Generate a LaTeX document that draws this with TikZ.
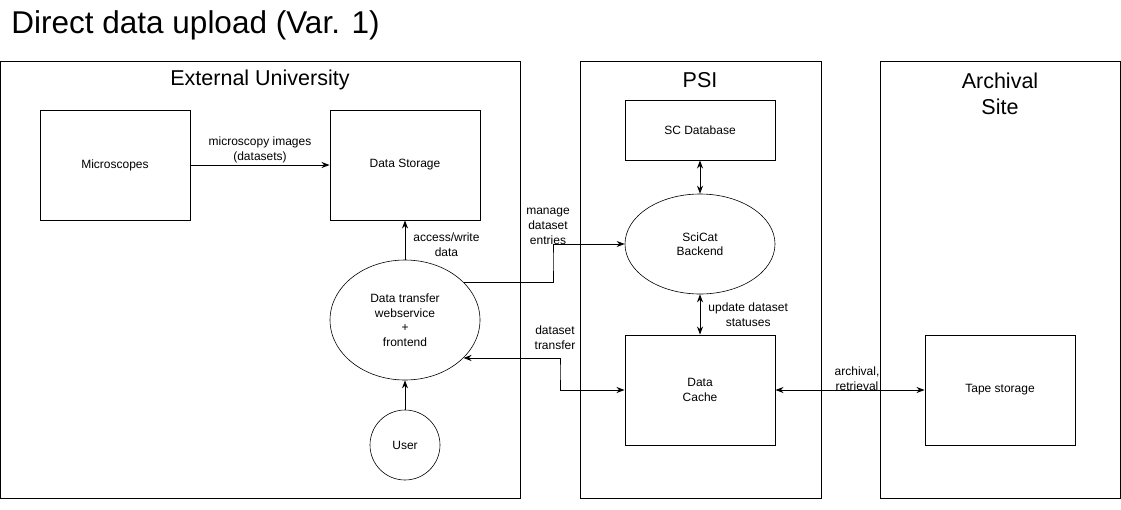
\documentclass[tikz,border=0pt]{standalone}
\usepackage{fontspec}
\setmainfont{Liberation Sans}
\usetikzlibrary{arrows.meta,shapes.geometric}

\begin{document}
\begin{tikzpicture}[x=1pt,y=-1pt,line width=0.9pt]
						\tikzstyle{every node}=[inner sep=0pt, align=center, font=\fontsize{12}{15}\selectfont]
						\tikzstyle{panel}=[draw, rectangle]
						\tikzstyle{box}=[draw, rectangle, minimum width=150pt, font=\fontsize{12}{15}\selectfont]
						\tikzstyle{oval}=[draw, ellipse, line width=0.6pt, minimum width=150pt, font=\fontsize{12}{14.5}\selectfont]
						\tikzstyle{arr}=[-{Stealth[length=8pt,width=6pt,inset=2.5pt]}]
						\tikzstyle{darr}=[{Stealth[length=8pt,width=6pt,inset=2.5pt]}-{Stealth[length=8pt,width=6pt,inset=2.5pt]}]
						\useasboundingbox (0,0) rectangle (1121,509);
						\draw (11,25) node (title) [anchor=west, font=\fontsize{31.5}{34}\selectfont] {Direct data upload (Var. 1)};
						\draw (260,279.5) node (ext) [panel, minimum width=520pt, minimum height=437pt] {};
						\draw (700.5,279.5) node (psi) [panel, minimum width=241pt, minimum height=437pt] {};
						\draw (1000,279.5) node (arch) [panel, minimum width=240pt, minimum height=437pt] {};
						\draw (260,80) node (exttitle) [font=\fontsize{21.5}{24}\selectfont] {External University};
						\draw (700,80) node (psititle) [font=\fontsize{21.5}{24}\selectfont] {PSI};
						\draw (1000,94) node (archtitle) [font=\fontsize{21.5}{26}\selectfont] {Archival\\Site};
						\draw (115,165) node (mic) [box, minimum height=110pt] {Microscopes};
						\draw (405,165) node (store) [box, minimum height=110pt] {Data Storage};
						\draw (405,320) node (dtw) [oval, minimum height=120pt] {Data transfer\\webservice\\+\\frontend};
						\draw (405,445) node (user) [draw, circle, line width=0.6pt, minimum size=70pt, font=\fontsize{12}{14}\selectfont] {User};
						\draw (700,130) node (scdb) [box, minimum height=60pt] {SC Database};
						\draw (700,244) node (scicat) [oval, minimum height=100pt] {SciCat\\Backend};
						\draw (700,390) node (cache) [box, minimum height=110pt] {Data\\Cache};
						\draw (1000,390) node (tape) [box, minimum height=110pt] {Tape storage};
						\draw[arr] (mic) -- (store) node [midway, above=2pt] {microscopy images\\(datasets)};
						\draw[arr] (dtw) -- (store) node [midway, right=8pt, yshift=-5pt] {access/write\\data};
						\draw[arr] (user) -- (dtw);
						\draw[darr] (scdb) -- (scicat);
						\draw[darr] (scicat) -- (cache) node [midway, right=8pt] {update dataset\\statuses};
						\draw[darr] (cache) -- (tape);
						\draw (857,379) node (archlbl) {archival,\\retrieval};
						\draw[arr] (dtw.32) -| (553,260) |- (scicat.west);
						\draw (548,226) node (managelbl) {manage\\dataset\\entries};
						\draw[darr] (dtw.-33) -| (560,370) |- (cache.west);
						\draw (555,338) node (transferlbl) {dataset\\transfer};
					\end{tikzpicture}
\end{document}
